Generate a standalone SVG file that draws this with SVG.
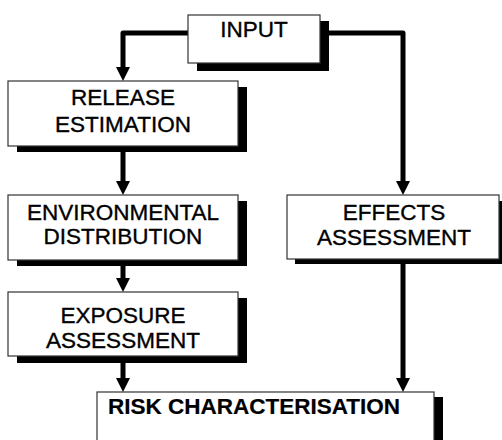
<svg xmlns="http://www.w3.org/2000/svg" width="502" height="440" viewBox="0 0 502 440">
  <style>
    .box { fill: #ffffff; stroke: #333333; stroke-width: 1.2; }
    .shadow { fill: #000000; }
    .label { font-family: "Liberation Sans", Arial, sans-serif; font-size: 22.5px; fill: #000000; stroke: #000000; stroke-width: 0.35; text-anchor: middle; }
    .bold { font-weight: bold; stroke-width: 0.2; }
    .wire { fill: none; stroke: #000000; stroke-width: 5; stroke-linejoin: round; }
  </style>
  <defs>
    <marker id="head" viewBox="0 0 14 14" refX="1" refY="7" markerWidth="14" markerHeight="14" markerUnits="userSpaceOnUse" orient="auto">
      <path d="M0,0 L14,7 L0,14 z" fill="#000000"/>
    </marker>
  </defs>
  <rect width="502" height="440" fill="#ffffff"/>

  <g id="connectors">
    <path class="wire" d="M188,33 H123 V68" marker-end="url(#head)"/>
    <path class="wire" d="M329,33 H403 V182" marker-end="url(#head)"/>
    <path class="wire" d="M123,152 V182" marker-end="url(#head)"/>
    <path class="wire" d="M123,266 V279" marker-end="url(#head)"/>
    <path class="wire" d="M123,363 V379" marker-end="url(#head)"/>
    <path class="wire" d="M403,264 V379" marker-end="url(#head)"/>
  </g>

  <g id="input">
    <rect class="shadow" x="197" y="21" width="132" height="50"/>
    <rect class="box" x="188" y="15" width="132" height="48"/>
    <text class="label" x="254" y="37" font-size="21">INPUT</text>
  </g>

  <g id="release-estimation">
    <rect class="shadow" x="17" y="87" width="230" height="65"/>
    <rect class="box" x="8" y="81" width="230" height="65"/>
    <text class="label" x="123" y="105">RELEASE</text>
    <text class="label" x="123" y="132">ESTIMATION</text>
  </g>

  <g id="environmental-distribution">
    <rect class="shadow" x="17" y="201" width="230" height="65"/>
    <rect class="box" x="8" y="195" width="230" height="65"/>
    <text class="label" x="123" y="220">ENVIRONMENTAL</text>
    <text class="label" x="123" y="244">DISTRIBUTION</text>
  </g>

  <g id="exposure-assessment">
    <rect class="shadow" x="17" y="298" width="230" height="65"/>
    <rect class="box" x="8" y="292" width="230" height="64"/>
    <text class="label" x="123" y="323">EXPOSURE</text>
    <text class="label" x="123" y="348">ASSESSMENT</text>
  </g>

  <g id="effects-assessment">
    <rect class="shadow" x="295" y="201" width="212" height="63"/>
    <rect class="box" x="287" y="195" width="212" height="64"/>
    <text class="label" x="394" y="220">EFFECTS</text>
    <text class="label" x="394" y="245">ASSESSMENT</text>
  </g>

  <g id="risk-characterisation">
    <rect class="shadow" x="106" y="397" width="337" height="60"/>
    <rect class="box" x="97" y="392" width="337" height="60"/>
    <text class="label bold" x="254" y="414">RISK CHARACTERISATION</text>
  </g>
</svg>
